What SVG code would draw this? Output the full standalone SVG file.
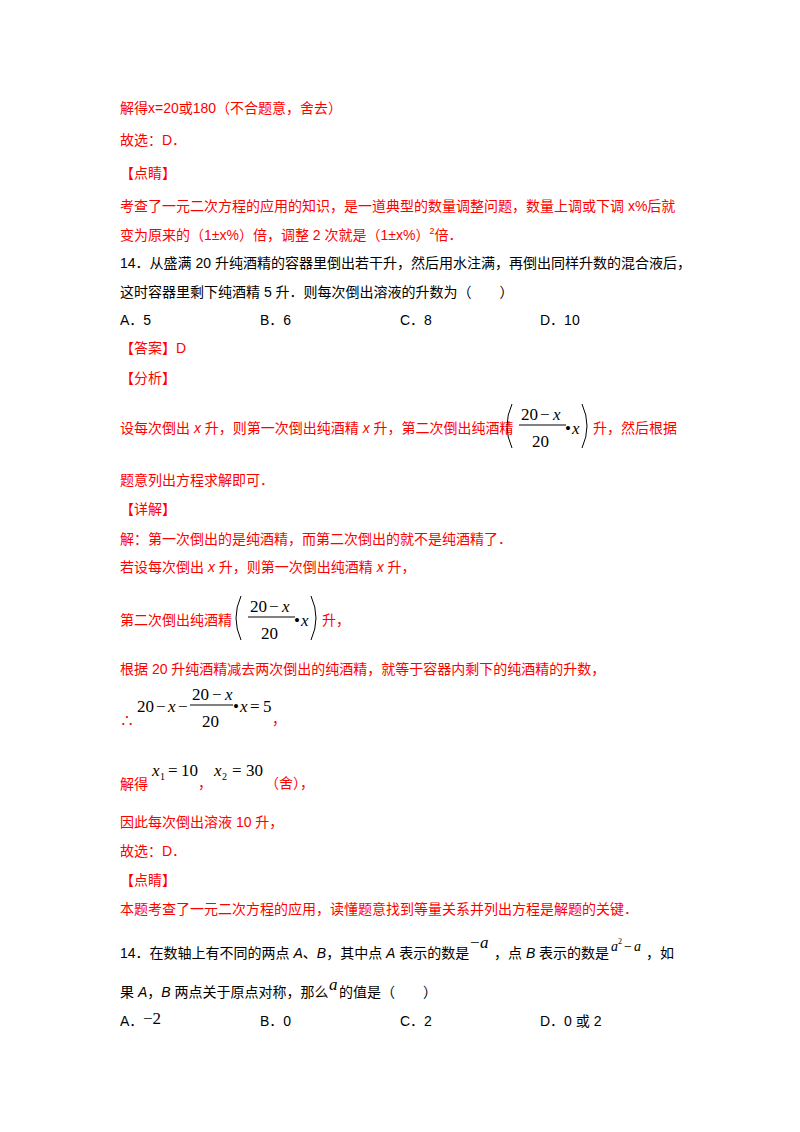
<svg xmlns="http://www.w3.org/2000/svg" width="800" height="1132" viewBox="0 0 800 1132">
<style>
text{font-family:"Liberation Sans","Noto Sans CJK SC",sans-serif;font-size:14px}
.r{fill:#ff0000}
.k{fill:#000}
.m{font-family:"Liberation Serif",serif;font-size:17px;fill:#000}
.s{font-size:14px}
.t{font-size:10px}
.i{font-style:italic}
.p{fill:none;stroke:#000;stroke-width:1}
</style>
<rect width="800" height="1132" fill="#fff"/>
<text class="r" x="120" y="113">解得x=20或180（不合题意，舍去）</text>
<text class="r" x="120" y="145">故选：D．</text>
<text class="r" x="120" y="178">【点睛】</text>
<text class="r" x="120" y="211">考查了一元二次方程的应用的知识，是一道典型的数量调整问题，数量上调或下调 x%后就</text>
<text class="r" x="120" y="240">变为原来的（1±x%）倍，调整 2 次就是（1±x%）<tspan style="font-size:9px" dy="-6">2</tspan><tspan dy="6">倍．</tspan></text>
<text class="k" x="120" y="268">14．从盛满 20 升纯酒精的容器里倒出若干升，然后用水注满，再倒出同样升数的混合液后，</text>
<text class="k" x="120" y="297">这时容器里剩下纯酒精 5 升．则每次倒出溶液的升数为（　　）</text>
<text class="k" x="120" y="325">A．5</text><text class="k" x="260" y="325">B．6</text><text class="k" x="400" y="325">C．8</text><text class="k" x="540" y="325">D．10</text>
<text class="r" x="120" y="353">【答案】D</text>
<text class="r" x="120" y="383">【分析】</text>
<text class="r" x="120" y="433">设每次倒出 <tspan font-style="italic">x</tspan> 升，则第一次倒出纯酒精 <tspan font-style="italic">x</tspan> 升，第二次倒出纯酒精</text>
<g id="frac1">
<path class="p" d="M512 404 Q502 426 512 448"/>
<text class="m" x="521" y="420">20</text><text class="m" x="540" y="420">−</text><text class="m i" x="553" y="420">x</text>
<line x1="519" y1="425" x2="566" y2="425" stroke="#000"/>
<text class="m" x="532" y="447">20</text>
<text class="m" x="565" y="434">•</text><text class="m i" x="572" y="434">x</text>
<path class="p" d="M582 404 Q592 426 582 448"/>
</g>
<text class="r" x="593" y="433">升，然后根据</text>
<text class="r" x="120" y="485">题意列出方程求解即可．</text>
<text class="r" x="120" y="514">【详解】</text>
<text class="r" x="120" y="544">解：第一次倒出的是纯酒精，而第二次倒出的就不是纯酒精了．</text>
<text class="r" x="120" y="572">若设每次倒出 <tspan font-style="italic">x</tspan> 升，则第一次倒出纯酒精 <tspan font-style="italic">x</tspan> 升，</text>
<text class="r" x="120" y="625">第二次倒出纯酒精</text>
<g id="frac2">
<path class="p" d="M241 596 Q231 618 241 640"/>
<text class="m" x="250" y="612">20</text><text class="m" x="269" y="612">−</text><text class="m i" x="282" y="612">x</text>
<line x1="248" y1="617" x2="295" y2="617" stroke="#000"/>
<text class="m" x="261" y="639">20</text>
<text class="m" x="294" y="626">•</text><text class="m i" x="301" y="626">x</text>
<path class="p" d="M311 596 Q321 618 311 640"/>
</g>
<text class="r" x="322" y="625">升，</text>
<text class="r" x="120" y="674">根据 20 升纯酒精减去两次倒出的纯酒精，就等于容器内剩下的纯酒精的升数，</text>
<text class="r" x="120" y="725">∴</text>
<g id="eq">
<text class="m" x="137" y="712">20</text><text class="m" x="156" y="712">−</text><text class="m i" x="168" y="712">x</text><text class="m" x="178" y="712">−</text>
<text class="m" x="192" y="700">20</text><text class="m" x="212" y="700">−</text><text class="m i" x="225" y="700">x</text>
<line x1="190" y1="705" x2="233" y2="705" stroke="#000"/>
<text class="m" x="202" y="727">20</text>
<text class="m" x="233" y="712">•</text><text class="m i" x="240" y="712">x</text><text class="m" x="250" y="712">=</text><text class="m" x="263" y="712">5</text>
</g>
<text class="r" x="272" y="724">，</text>
<text class="r" x="120" y="789">解得</text>
<text class="m i" x="152" y="776">x</text><text class="m t" x="160" y="780">1</text><text class="m" x="168" y="776">=</text><text class="m" x="181" y="776">10</text>
<text class="r" x="198" y="788">，</text>
<text class="m i" x="214" y="776">x</text><text class="m t" x="222" y="780">2</text><text class="m" x="232" y="776">=</text><text class="m" x="246" y="776">30</text>
<text class="r" x="265" y="788">（舍），</text>
<text class="r" x="120" y="827">因此每次倒出溶液 10 升，</text>
<text class="r" x="120" y="856">故选：D．</text>
<text class="r" x="120" y="885">【点睛】</text>
<text class="r" x="120" y="914">本题考查了一元二次方程的应用，读懂题意找到等量关系并列出方程是解题的关键．</text>
<text class="k" x="120" y="958">14．在数轴上有不同的两点 <tspan font-style="italic">A</tspan>、<tspan font-style="italic">B</tspan>，其中点 <tspan font-style="italic">A</tspan> 表示的数是</text>
<text class="m" x="470" y="948">−</text><text class="m i" x="480" y="948">a</text>
<text class="k" x="494" y="958">，点 <tspan font-style="italic">B</tspan> 表示的数是</text>
<text class="m i s" x="611" y="951">a</text><text class="m" x="618" y="944" style="font-size:8px">2</text><text class="m s" x="624" y="951">−</text><text class="m i s" x="634" y="951">a</text>
<text class="k" x="646" y="958">，如</text>
<text class="k" x="120" y="997">果 <tspan font-style="italic">A</tspan>，<tspan font-style="italic">B</tspan> 两点关于原点对称，那么</text>
<text class="m i" x="329" y="990">a</text>
<text class="k" x="339" y="997">的值是（　　）</text>
<text class="k" x="120" y="1026">A．</text><text class="m" x="143" y="1024">−2</text>
<text class="k" x="260" y="1026">B．0</text><text class="k" x="400" y="1026">C．2</text><text class="k" x="540" y="1026">D．0 或 2</text>
</svg>
